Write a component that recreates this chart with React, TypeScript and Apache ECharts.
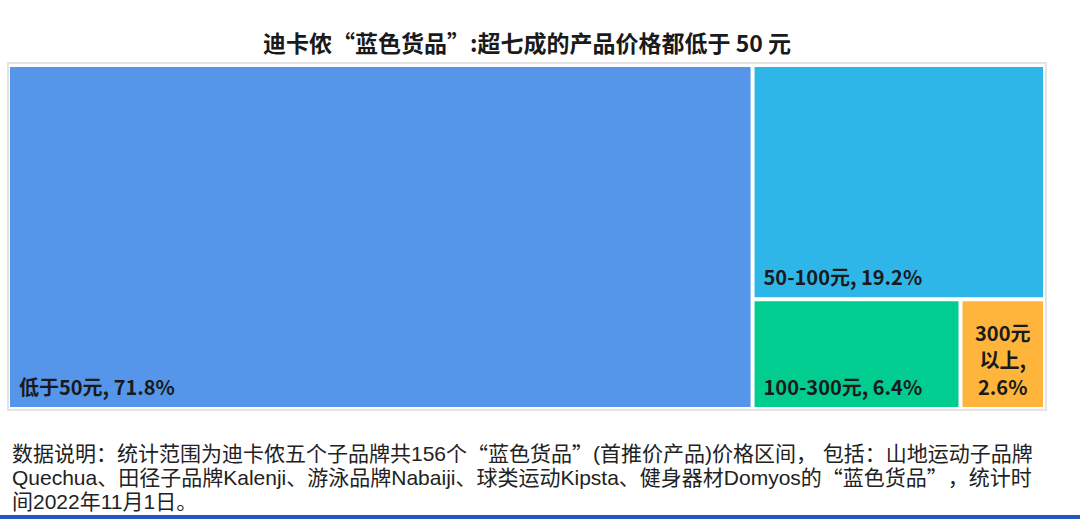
import React, { useEffect, useRef } from "react";
import * as echarts from "echarts";

const titleText = "迪卡侬“蓝色货品”:超七成的产品价格都低于 50 元";
const categories = ["低于50元", "50-100元", "100-300元", "300元以上"];
const shares = [71.8, 19.2, 6.4, 2.6];
const palette = ["#5596EA", "#2FB6E8", "#00CD8F", "#FFB43C"];
const noteLines = [
  "数据说明：统计范围为迪卡侬五个子品牌共156个“蓝色货品”(首推价产品)价格区间， 包括：山地运动子品牌",
  "Quechua、田径子品牌Kalenji、游泳品牌Nabaiji、球类运动Kipsta、健身器材Domyos的“蓝色货品”，统计时",
  "间2022年11月1日。",
];

const CJK = '"Noto Sans CJK SC", "Noto Sans", sans-serif';
const NOTE_FONT = '"Liberation Sans", "Noto Sans CJK SC", sans-serif';

export default function App() {
  const ref = useRef<HTMLDivElement>(null);
  useEffect(() => {
    if (!ref.current) return;
    const chart = echarts.init(ref.current, null, { renderer: "svg" });
    const data = categories.map((name, i) => {
      const item: any = {
        name,
        value: shares[i],
        itemStyle: { color: palette[i] },
      };
      if (i === categories.length - 1) {
        item.label = {
          position: "inside",
          align: "center",
          lineHeight: 27,
          offset: [0, 5],
          formatter: (p: any) =>
            `${p.name.slice(0, 4)}\n${p.name.slice(4)},\n${p.value}%`,
        };
      }
      return item;
    });
    const noteText = noteLines
      .map((l) => l.replace(/[“”]/g, (m) => `{q|${m}}`))
      .join("\n");
    chart.setOption({
      animation: false,
      title: {
        text: titleText,
        left: 527,
        top: 30,
        padding: 0,
        textAlign: "center",
        textStyle: {
          fontFamily: CJK,
          fontSize: 23,
          fontWeight: "bold",
          color: "#1a1a1a",
        },
      },
      graphic: [
        {
          type: "rect",
          shape: { x: 8, y: 63, width: 1038, height: 347 },
          style: { fill: "none", stroke: "#e4e4e4", lineWidth: 2 },
          silent: true,
        },
        {
          type: "text",
          x: 12,
          y: 441,
          style: {
            text: noteText,
            fontFamily: NOTE_FONT,
            fontSize: 21,
            lineHeight: 24,
            fill: "#222222",
            verticalAlign: "top",
            rich: {
              q: {
                fontFamily: CJK,
                fontSize: 21,
                lineHeight: 24,
                fill: "#222222",
              },
            },
          },
          silent: true,
        },
        {
          type: "rect",
          shape: { x: 0, y: 515, width: 1080, height: 4 },
          style: { fill: "#2457C5" },
          silent: true,
        },
      ],
      series: [
        {
          type: "treemap",
          left: 10,
          top: 67,
          width: 1033,
          height: 340,
          roam: false,
          nodeClick: false,
          breadcrumb: { show: false },
          emphasis: { disabled: true },
          levels: [
            { itemStyle: { borderWidth: 0, gapWidth: 4, borderColor: "#ffffff" } },
            { itemStyle: { borderWidth: 0, gapWidth: 0 } },
          ],
          label: {
            show: true,
            position: "insideBottomLeft",
            distance: 4,
            fontFamily: CJK,
            fontSize: 20,
            fontWeight: "bold",
            color: "#1a1a1a",
            lineHeight: 24,
            formatter: (p: any) => `${p.name}, ${p.value}%`,
          },
          data,
        },
      ],
    });
    return () => chart.dispose();
  }, []);
  return (
    <div
      ref={ref}
      style={{ position: "fixed", left: 0, top: 0, width: 1080, height: 519, background: "#fff" }}
    />
  );
}
